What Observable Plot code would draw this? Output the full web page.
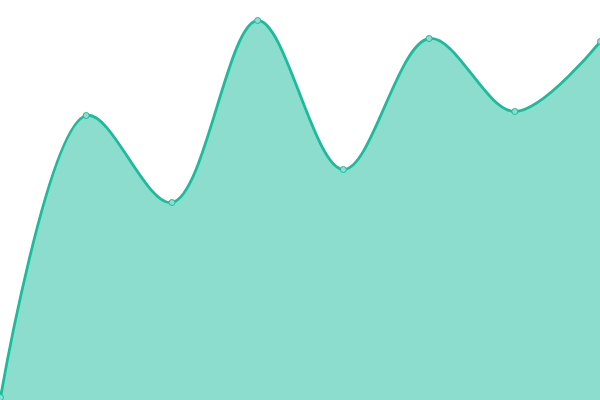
<!DOCTYPE html>
<html>
<head>
<meta charset="utf-8">
<script src="https://cdn.jsdelivr.net/npm/d3@7"></script>
<script src="https://cdn.jsdelivr.net/npm/@observablehq/plot@0.6"></script>
<style>
html, body { margin: 0; padding: 0; background: #fff; overflow: hidden; }
</style>
</head>
<body>
<div id="chart"></div>
<script>
const xIndex = [0, 1, 2, 3, 4, 5, 6, 7];
const values = [3, 285, 198, 380, 231, 362, 289, 359];
const data = xIndex.map((x, i) => ({x, v: values[i]}));

const chart = Plot.plot({
  width: 600,
  height: 400,
  margin: 0,
  x: {domain: [0, 7], range: [0, 600], axis: null},
  y: {domain: [0, 400], range: [400, 0], axis: null},
  marks: [
    Plot.areaY(data, {x: "x", y: "v", curve: "catmull-rom", fill: "#1abc9c", fillOpacity: 0.5}),
    Plot.lineY(data, {x: "x", y: "v", curve: "catmull-rom", stroke: "#1abc9c", strokeWidth: 2.8}),
    Plot.dot(data, {x: "x", y: "v", r: 3, fill: "#8ae0d0", stroke: "#1abc9c", strokeWidth: 1})
  ]
});
document.getElementById("chart").appendChild(chart);
</script>
</body>
</html>
